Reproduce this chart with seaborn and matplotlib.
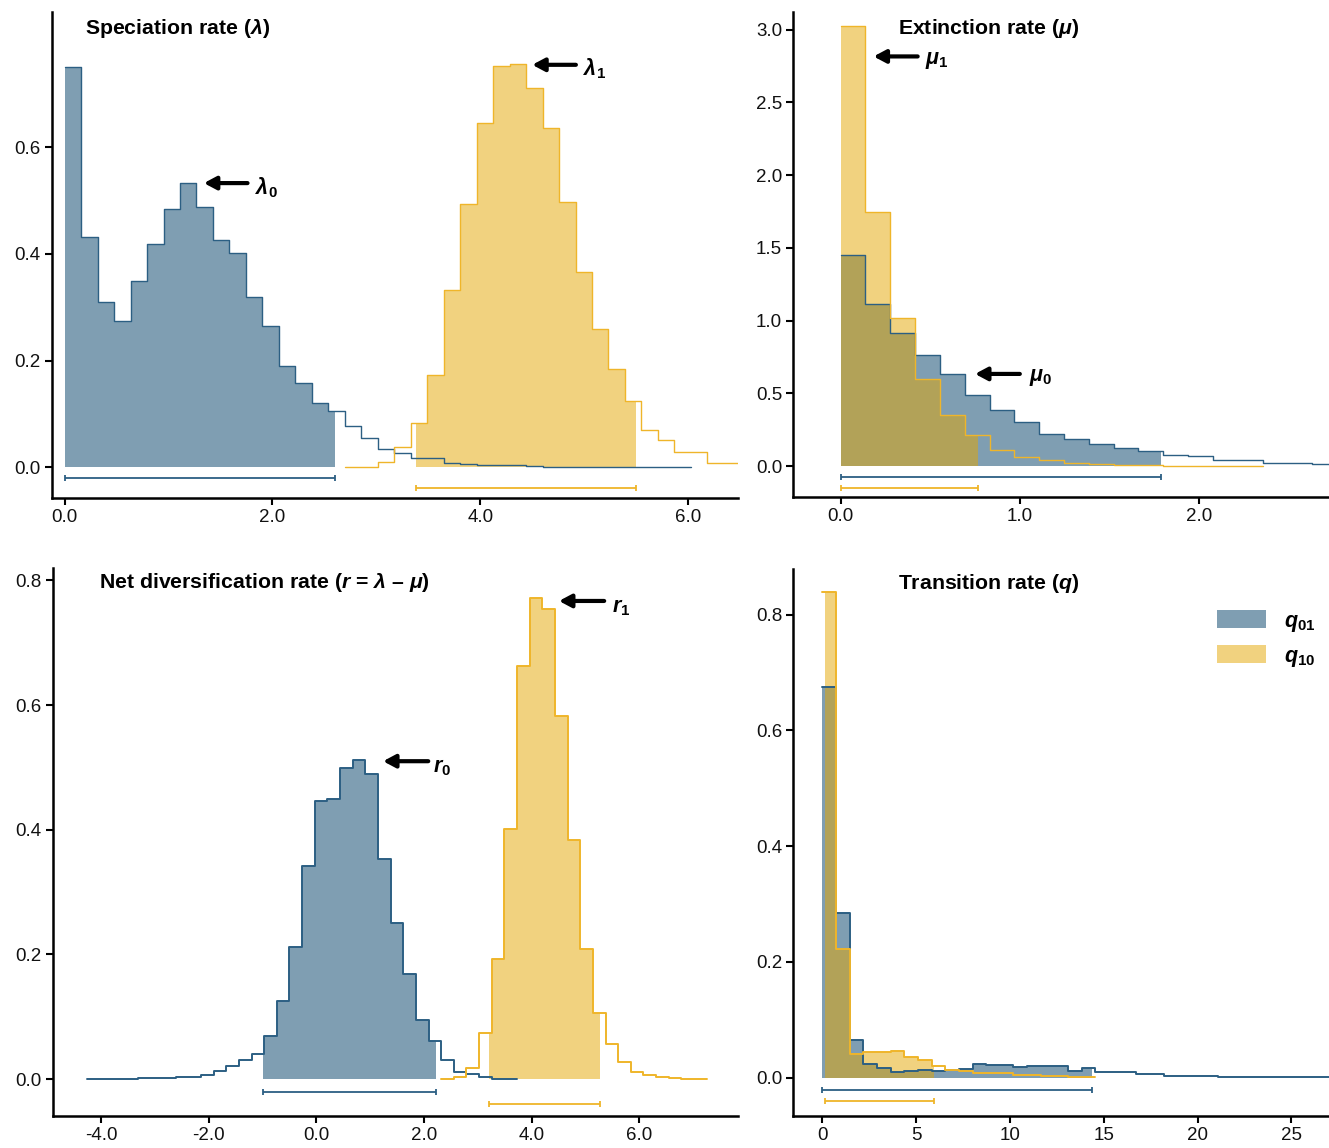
import numpy as np
import matplotlib
matplotlib.use("Agg")
import matplotlib.pyplot as plt
from matplotlib.patches import Patch
import seaborn as sns

# ---- data (bin start, bin width, bin heights, HPD interval) ----
lam0_start, lam0_width = 0.0, 0.1586
lam0_h = [0.750, 0.431, 0.310, 0.274, 0.349, 0.419, 0.484, 0.534, 0.488, 0.427,
          0.402, 0.319, 0.265, 0.189, 0.157, 0.120, 0.105, 0.077, 0.055, 0.034,
          0.027, 0.017, 0.017, 0.0075, 0.005, 0.004, 0.003, 0.003, 0.002, 0.001,
          0.001, 0.001, 0.001, 0.001, 0.001, 0.001, 0.001, 0.001]
lam0_hpd = (0.0, 2.60)

lam1_start, lam1_width = 17 * 0.1586, 0.1586
lam1_h = [0.001, 0.001, 0.009, 0.038, 0.083, 0.172, 0.333, 0.494, 0.646, 0.752,
          0.757, 0.712, 0.637, 0.497, 0.366, 0.260, 0.184, 0.124, 0.069, 0.050,
          0.029, 0.029, 0.0075, 0.0075]
lam1_hpd = (3.38, 5.50)

mu0_start, mu0_width = 0.0, 0.1385
mu0_h = [1.449, 1.112, 0.912, 0.766, 0.635, 0.486, 0.387, 0.305, 0.222, 0.188,
         0.152, 0.127, 0.103, 0.078, 0.066, 0.040, 0.040, 0.024, 0.020, 0.016]
mu0_hpd = (0.0, 1.787)

mu1_start, mu1_width = 0.0, 0.1385
mu1_h = [3.023, 1.747, 1.020, 0.598, 0.348, 0.213, 0.110, 0.060, 0.044, 0.018,
         0.014, 0.009, 0.009, 0.003, 0.002, 0.002, 0.002]
mu1_hpd = (0.0, 0.764)

r0_start, r0_width = -4.26, 0.235
r0_h = [0.0, 0.0, 0.0, 0.0003, 0.002, 0.002, 0.002, 0.0037, 0.0037, 0.007,
        0.0134, 0.0214, 0.0315, 0.0406, 0.0693, 0.1248, 0.2116, 0.3424, 0.4455, 0.4491,
        0.4986, 0.5124, 0.4889, 0.3539, 0.2502, 0.1688, 0.0946, 0.0615, 0.030, 0.0123,
        0.008, 0.0032, 0.001, 0.001]
r0_hpd = (-0.985, 2.225)

r1_start, r1_width = -4.26 + 28 * 0.235, 0.235
r1_h = [0.0, 0.0032, 0.0176, 0.074, 0.192, 0.402, 0.662, 0.772, 0.754, 0.583,
        0.384, 0.208, 0.1055, 0.057, 0.028, 0.012, 0.007, 0.004, 0.0012, 0.0,
        0.0006]
r1_hpd = (3.206, 5.27)

q01_start, q01_width = 0.0, 0.7275
q01_h = [0.675, 0.285, 0.066, 0.023, 0.0173, 0.0104, 0.012, 0.013, 0.012, 0.013,
         0.0144, 0.0236, 0.0225, 0.0225, 0.019, 0.020, 0.020, 0.020, 0.012, 0.0167,
         0.0092, 0.0092, 0.0092, 0.0058, 0.0058, 0.0029, 0.0029, 0.0029, 0.0029, 0.0012,
         0.0012, 0.0012, 0.0012, 0.0012, 0.0012, 0.0012, 0.0012, 0.0012]
q01_hpd = (0.0, 14.37)

q10_start, q10_width = 0.0, 0.7275
q10_h = [0.840, 0.223, 0.041, 0.044, 0.044, 0.046, 0.036, 0.031, 0.021, 0.014,
         0.012, 0.008, 0.0075, 0.0075, 0.0046, 0.0046, 0.003, 0.003, 0.0008, 0.0006]
q10_hpd = (0.14, 5.97)

BLUE = "#003f67"
YELLOW = "#e5a700"
BLUE_LINE = "#2c5f83"
YELLOW_LINE = "#efb52a"

sns.set_theme(style="ticks")
plt.rcParams["font.family"] = ["Liberation Sans", "DejaVu Sans"]
plt.rcParams["text.color"] = "black"
plt.rcParams["mathtext.fontset"] = "custom"
plt.rcParams["mathtext.rm"] = "Liberation Sans"
plt.rcParams["mathtext.it"] = "Liberation Sans:italic"
plt.rcParams["mathtext.bf"] = "Liberation Sans:bold"
plt.rcParams["mathtext.bfit"] = "Liberation Sans:bold:italic"


def fill_part(ax, start, width, heights, hpd, color):
    heights = np.asarray(heights)
    edges = start + width * np.arange(len(heights) + 1)
    lo, hi = hpd
    seg = np.concatenate([[lo], edges[(edges > lo) & (edges < hi)], [hi]])
    mids = (seg[:-1] + seg[1:]) / 2
    idx = np.clip(np.searchsorted(edges, mids) - 1, 0, len(heights) - 1)
    sns.histplot(x=mids, weights=heights[idx], bins=list(seg), element="step", fill=True,
                 color=color, alpha=0.5, linewidth=0, ax=ax)


def line_part(ax, start, width, heights, hpd, color, lw, bar_y):
    heights = np.asarray(heights)
    edges = start + width * np.arange(len(heights) + 1)
    mids = (edges[:-1] + edges[1:]) / 2
    sns.histplot(x=mids, weights=heights, bins=list(edges), element="step", fill=False,
                 color=color, linewidth=lw, ax=ax)
    lo, hi = hpd
    ax.errorbar(x=(lo + hi) / 2, y=bar_y, xerr=(hi - lo) / 2, color=color,
                capsize=2.5, lw=1.3, capthick=1.3)


def style_axis(ax, xlim, ylim, xticks, yticks, xfmt, yfmt):
    ax.set_xlim(*xlim)
    ax.set_ylim(*ylim)
    ax.set_xticks(xticks)
    ax.set_xticklabels([xfmt.format(t) for t in xticks])
    ax.set_yticks(yticks)
    ax.set_yticklabels([yfmt.format(t) for t in yticks])
    ax.set_xlabel("")
    ax.set_ylabel("")
    sns.despine(ax=ax)
    for s in ("left", "bottom"):
        ax.spines[s].set_linewidth(1.8)
        ax.spines[s].set_color("black")
    ax.tick_params(axis="both", labelsize=13.5, length=5, width=1.5,
                   color="black", labelcolor="#111111", pad=3)


def arrow(ax, tip, tail, label, label_xy):
    ax.annotate("", xy=tip, xytext=tail,
                arrowprops=dict(arrowstyle="-|>,head_length=0.6,head_width=0.32",
                                lw=3, color="black", shrinkA=0, shrinkB=0))
    ax.text(label_xy[0], label_xy[1], label, fontsize=15.5, va="center", ha="left")


fig = plt.figure(figsize=(13.29, 11.48), dpi=100)
ax1 = fig.add_axes([0.0391, 0.5662, 0.5162, 0.4233])
ax2 = fig.add_axes([0.5969, 0.5668, 0.4031, 0.4227])
ax3 = fig.add_axes([0.0397, 0.0279, 0.5157, 0.4774])
ax4 = fig.add_axes([0.5969, 0.0279, 0.4031, 0.4765])

TITLE_SIZE = 15.3

# Speciation rate
fill_part(ax1, lam0_start, lam0_width, lam0_h, lam0_hpd, BLUE)
fill_part(ax1, lam1_start, lam1_width, lam1_h, lam1_hpd, YELLOW)
line_part(ax1, lam0_start, lam0_width, lam0_h, lam0_hpd, BLUE_LINE, 1.0, -0.020)
line_part(ax1, lam1_start, lam1_width, lam1_h, lam1_hpd, YELLOW_LINE, 1.0, -0.0395)
style_axis(ax1, (-0.122, 6.48), (-0.058, 0.854), [0, 2, 4, 6], [0, 0.2, 0.4, 0.6],
           "{:.1f}", "{:.1f}")
ax1.text(0.048, 0.967, r"Speciation rate ($\mathbfit{\lambda}$)", transform=ax1.transAxes,
         fontsize=TITLE_SIZE, fontweight="bold", va="center", ha="left")
arrow(ax1, (1.34, 0.533), (1.76, 0.533), r"$\mathbfit{\lambda}_{\mathbf{0}}$", (1.83, 0.525))
arrow(ax1, (4.50, 0.755), (4.92, 0.755), r"$\mathbfit{\lambda}_{\mathbf{1}}$", (4.99, 0.747))

# Extinction rate
fill_part(ax2, mu0_start, mu0_width, mu0_h, mu0_hpd, BLUE)
fill_part(ax2, mu1_start, mu1_width, mu1_h, mu1_hpd, YELLOW)
line_part(ax2, mu0_start, mu0_width, mu0_h, mu0_hpd, BLUE_LINE, 1.0, -0.074)
line_part(ax2, mu1_start, mu1_width, mu1_h, mu1_hpd, YELLOW_LINE, 1.0, -0.150)
style_axis(ax2, (-0.264, 2.725), (-0.215, 3.12), [0, 1, 2],
           [0, 0.5, 1.0, 1.5, 2.0, 2.5, 3.0], "{:.1f}", "{:.1f}")
ax2.text(0.196, 0.967, r"Extinction rate ($\mathbfit{\mu}$)", transform=ax2.transAxes,
         fontsize=TITLE_SIZE, fontweight="bold", va="center", ha="left")
arrow(ax2, (0.184, 2.815), (0.43, 2.815), r"$\mathbfit{\mu}_{\mathbf{1}}$", (0.47, 2.79))
arrow(ax2, (0.75, 0.633), (1.0, 0.633), r"$\mathbfit{\mu}_{\mathbf{0}}$", (1.05, 0.61))

# Net diversification rate
fill_part(ax3, r0_start, r0_width, r0_h, r0_hpd, BLUE)
fill_part(ax3, r1_start, r1_width, r1_h, r1_hpd, YELLOW)
line_part(ax3, r0_start, r0_width, r0_h, r0_hpd, BLUE_LINE, 1.4, -0.020)
line_part(ax3, r1_start, r1_width, r1_h, r1_hpd, YELLOW_LINE, 1.4, -0.039)
style_axis(ax3, (-4.9, 7.84), (-0.059, 0.82), [-4, -2, 0, 2, 4, 6],
           [0, 0.2, 0.4, 0.6, 0.8], "{:.1f}", "{:.1f}")
ax3.text(0.0676, 0.973,
         r"Net diversification rate ($\mathbfit{r}$ = $\mathbfit{\lambda}$ – $\mathbfit{\mu}$)",
         transform=ax3.transAxes, fontsize=TITLE_SIZE, fontweight="bold", va="center", ha="left")
arrow(ax3, (1.24, 0.51), (2.08, 0.51), r"$\mathbfit{r}_{\mathbf{0}}$", (2.17, 0.50))
arrow(ax3, (4.51, 0.767), (5.35, 0.767), r"$\mathbfit{r}_{\mathbf{1}}$", (5.5, 0.757))

# Transition rate
fill_part(ax4, q01_start, q01_width, q01_h, q01_hpd, BLUE)
fill_part(ax4, q10_start, q10_width, q10_h, q10_hpd, YELLOW)
line_part(ax4, q01_start, q01_width, q01_h, q01_hpd, BLUE_LINE, 1.4, -0.0207)
line_part(ax4, q10_start, q10_width, q10_h, q10_hpd, YELLOW_LINE, 1.4, -0.040)
style_axis(ax4, (-1.55, 27.0), (-0.066, 0.879), [0, 5, 10, 15, 20, 25],
           [0, 0.2, 0.4, 0.6, 0.8], "{:d}", "{:.1f}")
ax4.text(0.196, 0.973, r"Transition rate ($\mathbfit{q}$)", transform=ax4.transAxes,
         fontsize=TITLE_SIZE, fontweight="bold", va="center", ha="left")
handles = [Patch(facecolor=BLUE, alpha=0.5, edgecolor="none"),
           Patch(facecolor=YELLOW, alpha=0.5, edgecolor="none")]
ax4.legend(handles, [r"$\mathbfit{q}_{\mathbf{01}}$", r"$\mathbfit{q}_{\mathbf{10}}$"],
           loc="upper right", bbox_to_anchor=(1.012, 0.96), frameon=False, fontsize=15.5,
           handlelength=2.3, handleheight=0.9, handletextpad=0.85, labelspacing=0.55)

fig.savefig("out.png", dpi=100, facecolor="white")
